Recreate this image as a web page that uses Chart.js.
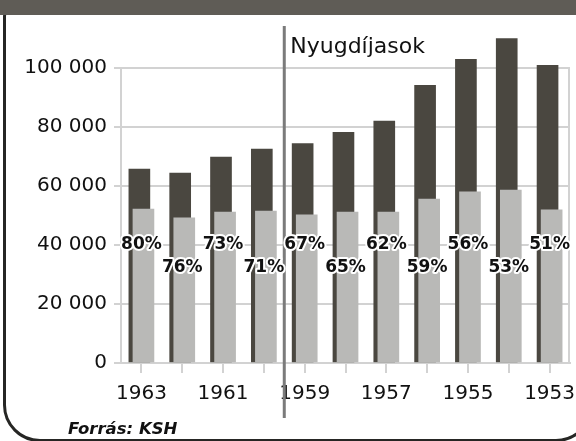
<!DOCTYPE html>
<html>
<head>
<meta charset="utf-8">
<script src="https://cdn.jsdelivr.net/npm/chart.js@4"></script>
<style>
  body { margin: 0; background: #fff; }
  #wrap { position: relative; width: 576px; height: 441px; overflow: hidden; background: #fff; }
  #frame {
    position: absolute; left: 3px; top: -20px; width: 590px; height: 462px;
    border: 3px solid #262624; border-radius: 37px; box-sizing: border-box;
  }
  #band { position: absolute; left: 0; top: 0; width: 576px; height: 15px; background: #5f5c56; }
  #source {
    position: absolute; left: 68px; top: 419px;
    font: italic bold 16.5px "DejaVu Sans", sans-serif; color: #111;
  }
  canvas { position: absolute; left: 0; top: 0; }
</style>
</head>
<body>
<div id="wrap">
  <div id="frame"></div>
  <div id="band"></div>
  <canvas id="chart" width="576" height="441"></canvas>
  <div id="source">Forrás: KSH</div>
</div>
<script>
// születési év, összes és nyugdíjas
const years = [1963, 1962, 1961, 1960, 1959, 1958, 1957, 1956, 1955, 1954, 1953]
const totals = [65700, 64400, 69800, 72500, 74400, 78200, 82000, 94100, 102900, 110000, 100900]
const pensioners = [52200, 49200, 51200, 51500, 50200, 51200, 51200, 55600, 58000, 58600, 51900]
const shares = ['80%', '76%', '73%', '71%', '67%', '65%', '62%', '59%', '56%', '53%', '51%']
const yTicks = [0, 20000, 40000, 60000, 80000, 100000]
const markerLabel = 'Nyugdíjasok'

const barShift = 0.05
const gridColor = '#d2d2d2'

const fmt = v => String(v).replace(/\B(?=(\d{3})+(?!\d))/g, ' ')

// jobb oldali keretvonal
const rightEdge = {
    id: 'rightEdge',
    beforeDatasetsDraw(chart) {
        const { ctx, chartArea } = chart
        ctx.save()
        ctx.strokeStyle = gridColor
        ctx.lineWidth = 2
        ctx.beginPath()
        ctx.moveTo(chartArea.right - 1, chartArea.top)
        ctx.lineTo(chartArea.right - 1, chartArea.bottom)
        ctx.stroke()
        ctx.restore()
    }
}

const extras = {
    id: 'extras',
    afterDatasetsDraw(chart) {
        const ctx = chart.ctx
        const x = chart.scales.x
        const y = chart.scales.y

        // elválasztó vonal 1960 és 1959 között
        const lx = (x.getPixelForValue(3) + x.getPixelForValue(4)) / 2
        ctx.save()
        ctx.strokeStyle = '#7b7b7b'
        ctx.lineWidth = 3
        ctx.beginPath()
        ctx.moveTo(lx, 26)
        ctx.lineTo(lx, 418)
        ctx.stroke()

        ctx.fillStyle = '#111'
        ctx.font = '22px "DejaVu Sans"'
        ctx.textBaseline = 'alphabetic'
        ctx.textAlign = 'left'
        ctx.fillText(markerLabel, lx + 6, 53)

        // százalékos feliratok
        ctx.font = 'bold 17px "DejaVu Sans"'
        ctx.textAlign = 'center'
        ctx.textBaseline = 'middle'
        ctx.lineJoin = 'round'
        ctx.strokeStyle = '#fff'
        ctx.lineWidth = 4
        shares.forEach((s, i) => {
            const px = x.getPixelForValue(i)
            const py = y.getPixelForValue(i % 2 ? 32400 : 40300)
            ctx.strokeText(s, px, py)
            ctx.fillText(s, px, py)
        })
        ctx.restore()
    }
}

// a világos oszlop az első adatsor, így az kerül felülre
const chart = new Chart(document.querySelector('#chart').getContext('2d'), {
    type: 'bar',
    data: {
        labels: years.map(String),
        datasets: [
            {
                label: 'Nyugdíjas',
                data: years.map((yr, i) => ({ x: yr, y: pensioners[i] })),
                xAxisID: 'xl',
                backgroundColor: '#b9b9b7',
                grouped: false,
                barThickness: 21,
                clip: false
            },
            {
                label: 'Összesen',
                data: years.map((yr, i) => ({ x: yr, y: totals[i] })),
                xAxisID: 'xd',
                backgroundColor: '#4a4740',
                grouped: false,
                barThickness: 21,
                clip: false
            }
        ]
    },
    options: {
        responsive: false,
        animation: false,
        layout: { padding: { left: 0, right: 6, top: 68, bottom: 0 } },
        plugins: {
            legend: { display: false },
            tooltip: { enabled: false }
        },
        scales: {
            x: {
                type: 'category',
                offset: true,
                grid: {
                    offset: false,
                    drawOnChartArea: false,
                    drawTicks: true,
                    tickLength: 10,
                    color: gridColor,
                    lineWidth: 2
                },
                border: { color: gridColor, width: 2 },
                ticks: {
                    autoSkip: false,
                    maxRotation: 0,
                    padding: 9,
                    color: '#111',
                    font: { family: 'DejaVu Sans', size: 20 },
                    callback: (v, i) => i % 2 ? '' : years[i]
                },
                afterFit: s => {
                    s.height = 78
                    s.paddingLeft = 0
                    s.paddingRight = 0
                }
            },
            xd: {
                type: 'linear',
                display: false,
                offset: false,
                reverse: true,
                min: years[years.length - 1] - 0.5 - barShift,
                max: years[0] + 0.5 - barShift
            },
            xl: {
                type: 'linear',
                display: false,
                offset: false,
                reverse: true,
                min: years[years.length - 1] - 0.5 + barShift,
                max: years[0] + 0.5 + barShift
            },
            y: {
                min: 0,
                max: 100000,
                afterBuildTicks: s => { s.ticks = yTicks.map(v => ({ value: v })) },
                grid: { color: gridColor, lineWidth: 2, tickLength: 7 },
                border: { color: gridColor, width: 2 },
                ticks: {
                    padding: 7,
                    color: '#111',
                    font: { family: 'DejaVu Sans', size: 20 },
                    callback: v => fmt(v)
                },
                afterFit: s => { s.width = 121 }
            }
        }
    },
    plugins: [rightEdge, extras]
})
</script>
</body>
</html>
